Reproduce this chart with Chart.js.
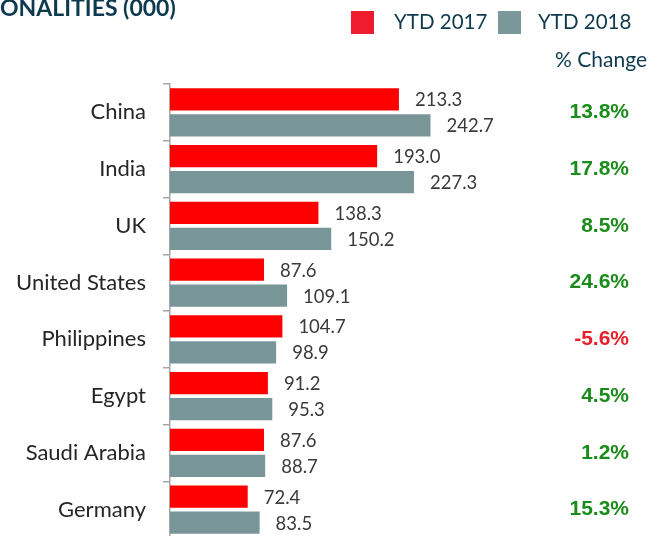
<!DOCTYPE html>
<html lang="en">
<head>
    <meta charset="UTF-8">
    <title>Nationalities YTD 2017 vs 2018</title>
    <script src="https://cdn.jsdelivr.net/npm/chart.js"></script>
    <style>
        html, body {
            margin: 0;
            padding: 0;
            background: #fff;
            overflow: hidden;
        }

        .chart-container {
            width: 662px;
            height: 538px;
            position: relative;
        }
    </style>
</head>
<body>
    <div class="chart-container">
        <canvas id="nat-chart"></canvas>
    </div>

    <script>
        // Data
        const countries = ['China', 'India', 'UK', 'United States', 'Philippines', 'Egypt', 'Saudi Arabia', 'Germany'];
        const ytd2017 = [213.3, 193.0, 138.3, 87.6, 104.7, 91.2, 87.6, 72.4];
        const ytd2018 = [242.7, 227.3, 150.2, 109.1, 98.9, 95.3, 88.7, 83.5];
        const pctChange = ['13.8%', '17.8%', '8.5%', '24.6%', '-5.6%', '4.5%', '1.2%', '15.3%'];
        const seriesNames = ['YTD 2017', 'YTD 2018'];

        const RED = '#ff0000';
        const GREY = '#789698';
        const NAVY = '#0e3a4f';

        // Title, legend, value labels and the % change column
        const annotations = {
            id: 'annotations',
            afterDraw(chart) {
                const ctx = chart.ctx;
                const yScale = chart.scales.y;
                ctx.save();

                // title (cut off on the left in the original)
                ctx.font = 'bold 23px Lato';
                ctx.fillStyle = NAVY;
                ctx.textAlign = 'left';
                ctx.textBaseline = 'alphabetic';
                ctx.fillText('ONALITIES (000)', 0, 16);

                // legend
                const legendBoxes = [['#ee1c2e', 351, 394], ['#7a9799', 498, 538]];
                ctx.font = '20.5px Lato';
                ctx.textBaseline = 'middle';
                legendBoxes.forEach((b, i) => {
                    ctx.fillStyle = b[0];
                    ctx.fillRect(b[1], 11, 23, 23);
                    ctx.fillStyle = NAVY;
                    ctx.fillText(seriesNames[i], b[2], 22);
                });

                // % change header
                ctx.font = '21px Lato';
                ctx.textAlign = 'right';
                ctx.fillText('% Change', 647, 60);

                // value labels next to bars
                ctx.font = '18.5px Lato';
                ctx.fillStyle = '#3a3a3a';
                ctx.textAlign = 'left';
                chart.data.datasets.forEach((ds, di) => {
                    chart.getDatasetMeta(di).data.forEach((bar, i) => {
                        ctx.fillText(ds.data[i].toFixed(1), bar.x + 16, bar.y + 1);
                    });
                });

                // % change column
                ctx.font = 'bold 21px "Liberation Sans"';
                ctx.textAlign = 'right';
                pctChange.forEach((p, i) => {
                    ctx.fillStyle = p.startsWith('-') ? '#e8202a' : '#1a8c1a';
                    ctx.fillText(p, 629, yScale.getPixelForValue(i));
                });

                ctx.restore();
            }
        };

        const ctx = document.getElementById('nat-chart').getContext('2d');
        new Chart(ctx, {
            type: 'bar',
            data: {
                labels: countries,
                datasets: [
                    { label: seriesNames[0], data: ytd2017, backgroundColor: RED },
                    { label: seriesNames[1], data: ytd2018, backgroundColor: GREY }
                ]
            },
            options: {
                indexAxis: 'y',
                responsive: true,
                maintainAspectRatio: false,
                animation: false,
                categoryPercentage: 0.92,
                barPercentage: 0.85,
                layout: { padding: { top: 84, right: 9, bottom: 0, left: 0 } },
                plugins: {
                    legend: { display: false },
                    tooltip: { enabled: false }
                },
                scales: {
                    x: {
                        display: false,
                        min: 0,
                        max: 450
                    },
                    y: {
                        afterFit: s => {
                            s.width = 170;
                            s.paddingTop = 0;
                            s.paddingBottom = 0;
                        },
                        grid: {
                            drawOnChartArea: false,
                            tickLength: 7,
                            color: '#a6a6a6',
                            lineWidth: 1.5
                        },
                        border: { color: '#a6a6a6', width: 1.5 },
                        ticks: {
                            padding: 17,
                            color: '#262626',
                            font: { family: 'Lato', size: 22 }
                        }
                    }
                }
            },
            plugins: [annotations]
        });
    </script>
</body>
</html>
